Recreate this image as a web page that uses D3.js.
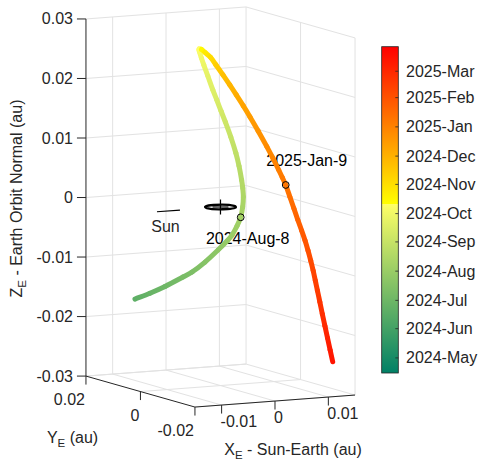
<!DOCTYPE html>
<html><head><meta charset="utf-8">
<script src="https://cdn.jsdelivr.net/npm/d3@7"></script>
<style>
body{margin:0;background:#fff}
svg{display:block}
text{font-family:"Liberation Sans",Arial,Helvetica,sans-serif;fill:#262626;font-size:16px}
</style>
</head><body>
<svg id="chart" width="485" height="465"></svg>
<script>
// ---------------- data ----------------
const dates = ["2024-06-20","2024-06-26","2024-07-01","2024-07-09","2024-07-12","2024-07-18","2024-07-24","2024-07-29","2024-08-01","2024-08-04",
"2024-08-08","2024-08-11","2024-08-14","2024-08-17","2024-08-19","2024-08-23","2024-08-27","2024-09-01","2024-09-06","2024-09-10",
"2024-09-14","2024-09-18","2024-09-23","2024-09-28","2024-10-02","2024-10-06","2024-10-10","2024-10-15","2024-10-25","2024-11-03",
"2024-11-12","2024-11-21","2024-11-28","2024-12-04","2024-12-10","2024-12-15","2024-12-20","2024-12-26","2024-12-30","2025-01-03",
"2025-01-06","2025-01-09","2025-01-13","2025-01-18","2025-01-22","2025-01-26","2025-01-30","2025-02-02","2025-02-06","2025-02-09",
"2025-02-13","2025-02-16","2025-02-21","2025-02-25","2025-03-01","2025-03-05","2025-03-10","2025-03-14"];
const xE = [-0.00990,-0.00745,-0.00494,-0.00208,-0.00059,0.00149,0.00357,0.00495,0.00568,0.00641,
0.00685,0.00706,0.00704,0.00677,0.00651,0.00582,0.00502,0.00382,0.00254,0.00158,
0.00058,-0.00037,-0.00156,-0.00257,-0.00317,-0.00373,-0.00403,-0.00372,-0.00337,-0.00267,
-0.00202,-0.00107,-0.00005,0.00092,0.00198,0.00298,0.00425,0.00567,0.00667,0.00754,
0.00811,0.00865,0.00913,0.00952,0.01000,0.01040,0.01074,0.01109,0.01129,0.01154,
0.01164,0.01183,0.01193,0.01214,0.01232,0.01250,0.01263,0.01286];
const yE = [0.0120,0.0113,0.0107,0.0097,0.0093,0.0086,0.0079,0.0073,0.0069,0.0065,
0.0060,0.0057,0.0054,0.0051,0.0050,0.0046,0.0042,0.0037,0.0032,0.0029,
0.0025,0.0021,0.0016,0.0011,0.0008,0.0004,0.0000,-0.0003,-0.0009,-0.0016,
-0.0023,-0.0030,-0.0035,-0.0040,-0.0045,-0.0050,-0.0055,-0.0059,-0.0062,-0.0066,
-0.0068,-0.0070,-0.0076,-0.0083,-0.0088,-0.0094,-0.0100,-0.0104,-0.0110,-0.0114,
-0.0120,-0.0124,-0.0131,-0.0136,-0.0142,-0.0148,-0.0155,-0.0160];
const zE = [-0.01636,-0.01546,-0.01442,-0.01289,-0.01210,-0.01047,-0.00850,-0.00700,-0.00599,-0.00447,
-0.00297,-0.00122,0.00050,0.00207,0.00345,0.00590,0.00819,0.01103,0.01370,0.01565,
0.01762,0.01942,0.02191,0.02390,0.02515,0.02625,0.02683,0.02676,0.02631,0.02551,
0.02430,0.02265,0.02096,0.01928,0.01743,0.01558,0.01320,0.01052,0.00851,0.00657,
0.00530,0.00403,0.00206,0.00019,-0.00171,-0.00342,-0.00505,-0.00670,-0.00832,-0.00996,
-0.01157,-0.01321,-0.01506,-0.01703,-0.01898,-0.02093,-0.02286,-0.02478];

const xLim = [-0.015, 0.015], yLim = [-0.02, 0.02], zLim = [-0.03, 0.03];
const xTicks = [-0.01, 0, 0.01];
const yTicks = [-0.02, 0, 0.02];
const zTicks = [-0.03, -0.02, -0.01, 0, 0.01, 0.02, 0.03];
const xTickLabels = ["-0.01", "0", "0.01"];
const yTickLabels = ["-0.02", "0", "0.02"];
const zTickLabels = ["-0.03", "-0.02", "-0.01", "0", "0.01", "0.02", "0.03"];

const cLim = ["2024-04-15", "2025-03-27"];
const cBreak = "2024-10-11";
const cbarTicks = ["2024-05-01","2024-06-01","2024-07-01","2024-08-01","2024-09-01","2024-10-01","2024-11-01","2024-12-01","2025-01-01","2025-02-01","2025-03-01"];
const cbarTickLabels = ["2024-May","2024-Jun","2024-Jul","2024-Aug","2024-Sep","2024-Oct","2024-Nov","2024-Dec","2025-Jan","2025-Feb","2025-Mar"];

const markerDates = ["2024-08-08", "2025-01-09"];
const markerLabels = ["2024-Aug-8", "2025-Jan-9"];
const moonOrbitRadius = 0.00257;
const sunLineX = [-0.0119, -0.0076];

// ---------------- layout / projection ----------------
const view = {az: -27.2, el: 8.4};
const box = {lx: 180, ly: 238.4, lz: 361, cx: 220.5, cy: 207};
const xs = d3.scaleLinear().domain(xLim).range([-box.lx/2, box.lx/2]);
const ys = d3.scaleLinear().domain(yLim).range([-box.ly/2, box.ly/2]);
const zs = d3.scaleLinear().domain(zLim).range([-box.lz/2, box.lz/2]);
const az = view.az*Math.PI/180, el = view.el*Math.PI/180;
function proj(x, y, z) {
  const X = xs(x), Y = ys(y), Z = zs(z);
  const h = Math.cos(az)*X + Math.sin(az)*Y;
  const v = -Math.sin(el)*Math.sin(az)*X + Math.sin(el)*Math.cos(az)*Y + Math.cos(el)*Z;
  return [box.cx + h, box.cy - v];
}

const parse = d3.timeParse("%Y-%m-%d");
const t0 = parse(cLim[0]), t1 = parse(cLim[1]), tb = parse(cBreak);
const summer = d3.scaleLinear().domain([t0, tb]).range(["#008066", "#ffff66"]).interpolate(d3.interpolateRgb).clamp(true);
const autumn = d3.scaleLinear().domain([tb, t1]).range(["#ffff00", "#ff0000"]).interpolate(d3.interpolateRgb).clamp(true);
const colorOf = d => d < tb ? summer(d) : autumn(d);

const svg = d3.select("#chart");
const defs = svg.append("defs");
const ink = "#262626";

const seg = (g, a, b) => g.append("line").attr("x1", a[0]).attr("y1", a[1]).attr("x2", b[0]).attr("y2", b[1]);

// ---------------- grid ----------------
const grid = svg.append("g").attr("stroke", "#e2e2e2").attr("stroke-width", 1).attr("fill", "none");
xTicks.forEach(x => {
  seg(grid, proj(x, yLim[0], zLim[0]), proj(x, yLim[1], zLim[0]));
  seg(grid, proj(x, yLim[1], zLim[0]), proj(x, yLim[1], zLim[1]));
});
yTicks.forEach(y => {
  seg(grid, proj(xLim[0], y, zLim[0]), proj(xLim[1], y, zLim[0]));
  seg(grid, proj(xLim[1], y, zLim[0]), proj(xLim[1], y, zLim[1]));
});
zTicks.forEach(z => {
  seg(grid, proj(xLim[0], yLim[1], z), proj(xLim[1], yLim[1], z));
  seg(grid, proj(xLim[1], yLim[0], z), proj(xLim[1], yLim[1], z));
});

// ---------------- axes ----------------
const ax = svg.append("g").attr("stroke", ink).attr("stroke-width", 1);
seg(ax, proj(xLim[0], yLim[0], zLim[0]), proj(xLim[1], yLim[0], zLim[0]));   // X axis
seg(ax, proj(xLim[0], yLim[0], zLim[0]), proj(xLim[0], yLim[1], zLim[0]));   // Y axis
seg(ax, proj(xLim[0], yLim[1], zLim[0]), proj(xLim[0], yLim[1], zLim[1]));   // Z axis
const tickLen = 8.5;
const labels = svg.append("g");
xTicks.forEach((x, i) => {
  const p = proj(x, yLim[0], zLim[0]);
  seg(ax, p, [p[0], p[1] + tickLen]);
  labels.append("text").attr("x", p[0] - 1).attr("y", p[1] + 16).attr("dominant-baseline", "central")
    .attr("text-anchor", "start").text(xTickLabels[i]);
});
yTicks.forEach((y, i) => {
  const p = proj(xLim[0], y, zLim[0]);
  seg(ax, p, [p[0], p[1] + tickLen]);
  labels.append("text").attr("x", p[0] - 1).attr("y", p[1] + 23.5).attr("dominant-baseline", "central")
    .attr("text-anchor", "end").text(yTickLabels[i]);
});
zTicks.forEach((z, i) => {
  const p = proj(xLim[0], yLim[1], z);
  seg(ax, p, [p[0] - 9, p[1]]);
  labels.append("text").attr("x", p[0] - 13).attr("y", p[1]).attr("dominant-baseline", "central")
    .attr("text-anchor", "end").text(zTickLabels[i]);
});

// axis titles
const xt = labels.append("text").attr("x", 293).attr("y", 455).attr("text-anchor", "middle");
xt.append("tspan").text("X");
xt.append("tspan").attr("dy", 4).attr("font-size", 11.5).text("E");
xt.append("tspan").attr("dy", -4).text(" - Sun-Earth (au)");
const yt = labels.append("text").attr("x", 72.5).attr("y", 443).attr("text-anchor", "middle");
yt.append("tspan").text("Y");
yt.append("tspan").attr("dy", 4).attr("font-size", 11.5).text("E");
yt.append("tspan").attr("dy", -4).text(" (au)");
const zt = labels.append("text").attr("transform", "translate(22,198.5) rotate(-90)").attr("text-anchor", "middle");
zt.append("tspan").text("Z");
zt.append("tspan").attr("dy", 4).attr("font-size", 11.5).text("E");
zt.append("tspan").attr("dy", -4).text(" - Earth Orbit Normal (au)");

// ---------------- Earth, Moon orbit, Sun direction ----------------
const c0 = proj(0, 0, 0);
const ex = proj(moonOrbitRadius, 0, 0), ey = proj(0, moonOrbitRadius, 0);
svg.append("circle").attr("r", 1).attr("fill", "none").attr("stroke", "#000").attr("stroke-width", 2.3)
  .attr("vector-effect", "non-scaling-stroke")
  .attr("transform", `matrix(${ex[0]-c0[0]},${ex[1]-c0[1]},${ey[0]-c0[0]},${ey[1]-c0[1]},${c0[0]},${c0[1]})`);
const earth = svg.append("g").attr("stroke", "#000").attr("stroke-width", 1.2);
seg(earth, [c0[0] - 8, c0[1]], [c0[0] + 8, c0[1]]);
seg(earth, [c0[0], c0[1] - 7.5], [c0[0], c0[1] + 7.5]);
const s0 = proj(sunLineX[0], 0, 0), s1 = proj(sunLineX[1], 0, 0);
seg(svg.append("g").attr("stroke", "#000").attr("stroke-width", 1.2), s0, s1);
labels.append("text").attr("x", (s0[0] + s1[0]) / 2 - 3).attr("y", (s0[1] + s1[1]) / 2 + 21)
  .attr("text-anchor", "middle").text("Sun");

// ---------------- trajectory (smooth, colour by date) ----------------
const pts = dates.map((d, i) => ({t: parse(d), p: proj(xE[i], yE[i], zE[i])}));
const n = pts.length;
const dist = (a, b) => Math.hypot(a[0] - b[0], a[1] - b[1]);
const tang = pts.map((q, i) => {
  const a = pts[Math.max(0, i - 1)].p, b = pts[Math.min(n - 1, i + 1)].p;
  const d = dist(a, b) || 1;
  return [(b[0] - a[0]) / d, (b[1] - a[1]) / d];
});
const traj = svg.append("g").attr("stroke-width", 5).attr("stroke-linecap", "round").attr("fill", "none");
for (let i = 0; i < n - 1; i++) {
  const a = pts[i], b = pts[i + 1];
  const L = dist(a.p, b.p) / 3;
  const c1 = [a.p[0] + tang[i][0] * L, a.p[1] + tang[i][1] * L];
  const c2 = [b.p[0] - tang[i + 1][0] * L, b.p[1] - tang[i + 1][1] * L];
  const g = defs.append("linearGradient").attr("id", "g" + i).attr("gradientUnits", "userSpaceOnUse")
    .attr("x1", a.p[0]).attr("y1", a.p[1]).attr("x2", b.p[0]).attr("y2", b.p[1]);
  g.append("stop").attr("offset", 0).attr("stop-color", colorOf(a.t));
  g.append("stop").attr("offset", 1).attr("stop-color", colorOf(b.t));
  traj.append("path")
    .attr("d", `M${a.p[0]},${a.p[1]}C${c1[0]},${c1[1]} ${c2[0]},${c2[1]} ${b.p[0]},${b.p[1]}`)
    .attr("stroke", `url(#g${i})`);
}

// markers
const labelOffsets = [[7, 27], [21, -19]];
markerDates.forEach((md, k) => {
  const i = dates.indexOf(md);
  const p = pts[i].p;
  svg.append("circle").attr("cx", p[0]).attr("cy", p[1]).attr("r", 3.4)
    .attr("fill", "none").attr("stroke", "#000").attr("stroke-width", 1);
  labels.append("text").attr("x", p[0] + labelOffsets[k][0]).attr("y", p[1] + labelOffsets[k][1])
    .attr("text-anchor", "middle").style("fill", "#000").text(markerLabels[k]);
});

// ---------------- colorbar ----------------
const cb = {x: 381.7, w: 16.6, top: 46.7, bottom: 373};
const cy = d3.scaleTime().domain([t0, t1]).range([cb.bottom, cb.top]);
const frac = (cb.bottom - cy(tb)) / (cb.bottom - cb.top);
const cg = defs.append("linearGradient").attr("id", "cbar").attr("x1", 0).attr("y1", 1).attr("x2", 0).attr("y2", 0);
cg.append("stop").attr("offset", 0).attr("stop-color", summer(t0));
cg.append("stop").attr("offset", frac).attr("stop-color", summer(tb));
cg.append("stop").attr("offset", frac).attr("stop-color", autumn(tb));
cg.append("stop").attr("offset", 1).attr("stop-color", autumn(t1));
svg.append("rect").attr("x", cb.x).attr("y", cb.top).attr("width", cb.w).attr("height", cb.bottom - cb.top)
  .attr("fill", "url(#cbar)").attr("stroke", ink).attr("stroke-width", 0.8);
const cbt = svg.append("g");
cbarTicks.forEach((d, i) => {
  const y = cy(parse(d));
  cbt.append("line").attr("x1", cb.x + cb.w - 3).attr("x2", cb.x + cb.w).attr("y1", y).attr("y2", y)
    .attr("stroke", ink).attr("stroke-width", 0.8);
  cbt.append("text").attr("x", 406).attr("y", y).attr("dominant-baseline", "central").text(cbarTickLabels[i]);
});
</script>
</body></html>
